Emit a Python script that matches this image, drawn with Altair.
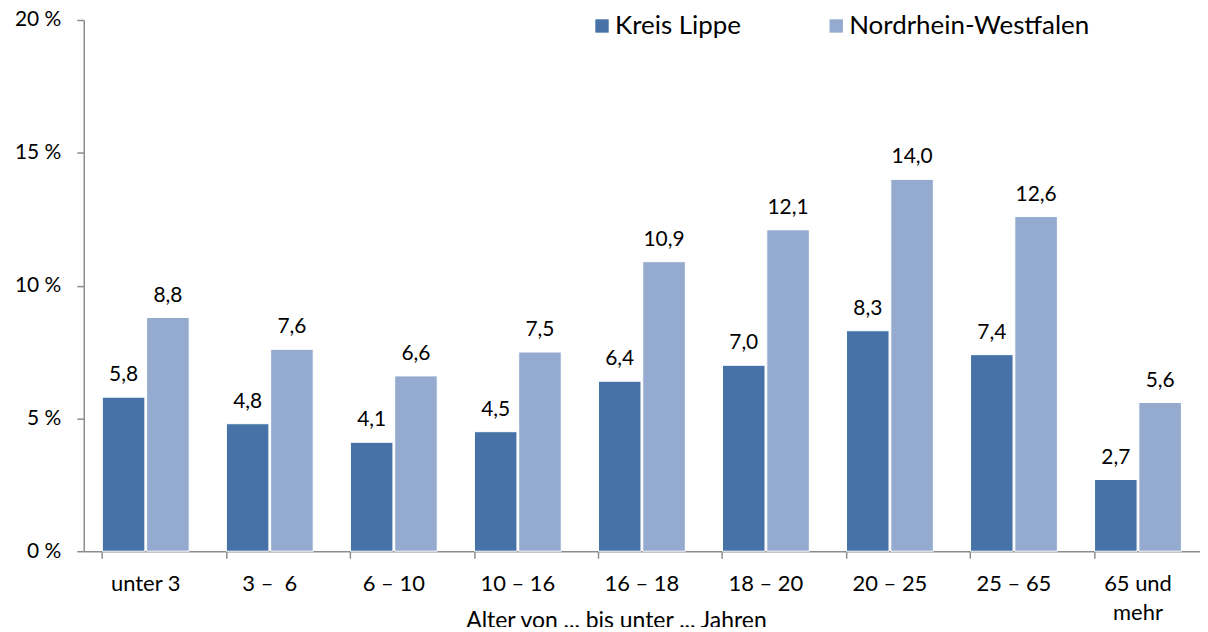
import altair as alt
import pandas as pd

categories = ["unter 3", "3 –\u00a0 6", "6 – 10", "10 – 16", "16 – 18", "18 – 20", "20 – 25", "25 – 65", "65 und mehr"]
lippe = [5.8, 4.8, 4.1, 4.5, 6.4, 7.0, 8.3, 7.4, 2.7]
nrw = [8.8, 7.6, 6.6, 7.5, 10.9, 12.1, 14.0, 12.6, 5.6]
series = ["Kreis Lippe", "Nordrhein-Westfalen"]
colors = ["#4672A8", "#94AACF"]
y_ticks = [0, 5, 10, 15, 20]

rows = []
for i, c in enumerate(categories):
    for s, vals in zip(series, [lippe, nrw]):
        v = vals[i]
        rows.append({"Alter": c, "Gebiet": s, "Wert": v,
                     "Label": f"{v:.1f}".replace(".", ",")})
df = pd.DataFrame(rows)

FONT = "Lato"

x = alt.X("Alter:N", sort=categories,
          scale=alt.Scale(paddingInner=0.3, paddingOuter=0.15),
          axis=alt.Axis(title="Alter von ... bis unter ... Jahren",
                        titleFontSize=23, titleFontWeight="normal", titleColor="black",
                        titleFont=FONT, titleY=77, titleX=534, titleAlign="center",
                        titleBaseline="alphabetic",
                        labelFontSize=22, labelFont=FONT, labelColor="black",
                        labelAngle=0, labelPadding=15, labelLineHeight=30,
                        labelExpr="datum.label == '65 und mehr' ? ['65 und', 'mehr'] : datum.label",
                        bandPosition=0, tickSize=7, tickColor="#8c8c8c",
                        domainColor="#8c8c8c", domainWidth=1.5, tickWidth=1.5,
                        grid=False))
xo = alt.XOffset("Gebiet:N", sort=series, scale=alt.Scale(paddingInner=0.04))
y = alt.Y("Wert:Q", scale=alt.Scale(domain=[0, 20], nice=False),
          axis=alt.Axis(title=None, values=y_ticks, labelExpr="datum.value + ' %'",
                        labelFontSize=21, labelFont=FONT, labelColor="black",
                        labelPadding=16, tickSize=7, tickColor="#8c8c8c",
                        domainColor="#8c8c8c", domainWidth=1.5, tickWidth=1.5,
                        grid=False))

bars = alt.Chart(df).mark_bar(stroke="white", strokeWidth=1).encode(
    x=x, xOffset=xo, y=y,
    color=alt.Color("Gebiet:N", sort=series,
                    scale=alt.Scale(domain=series, range=colors),
                    legend=alt.Legend(title=None, orient="none", direction="horizontal",
                                      legendX=507, legendY=-7, symbolType="square",
                                      symbolSize=180, symbolStrokeWidth=0,
                                      labelFontSize=26, labelFont=FONT, labelColor="black",
                                      labelLimit=0, columnPadding=82, labelOffset=0)),
)

labels = alt.Chart(df).mark_text(dy=-22, baseline="middle", fontSize=21, font=FONT,
                                 color="black").encode(
    x=x, xOffset=xo, y=y, text="Label:N")

chart = alt.layer(bars, labels).properties(
    width=1120, height=533,
    padding={"left": 76, "top": 11, "right": 0, "bottom": 75},
    autosize=alt.AutoSizeParams(type="none"),
).configure(background="white").configure_view(stroke=None)

chart.save("out.html", embed_options={"renderer": "svg", "actions": False})
